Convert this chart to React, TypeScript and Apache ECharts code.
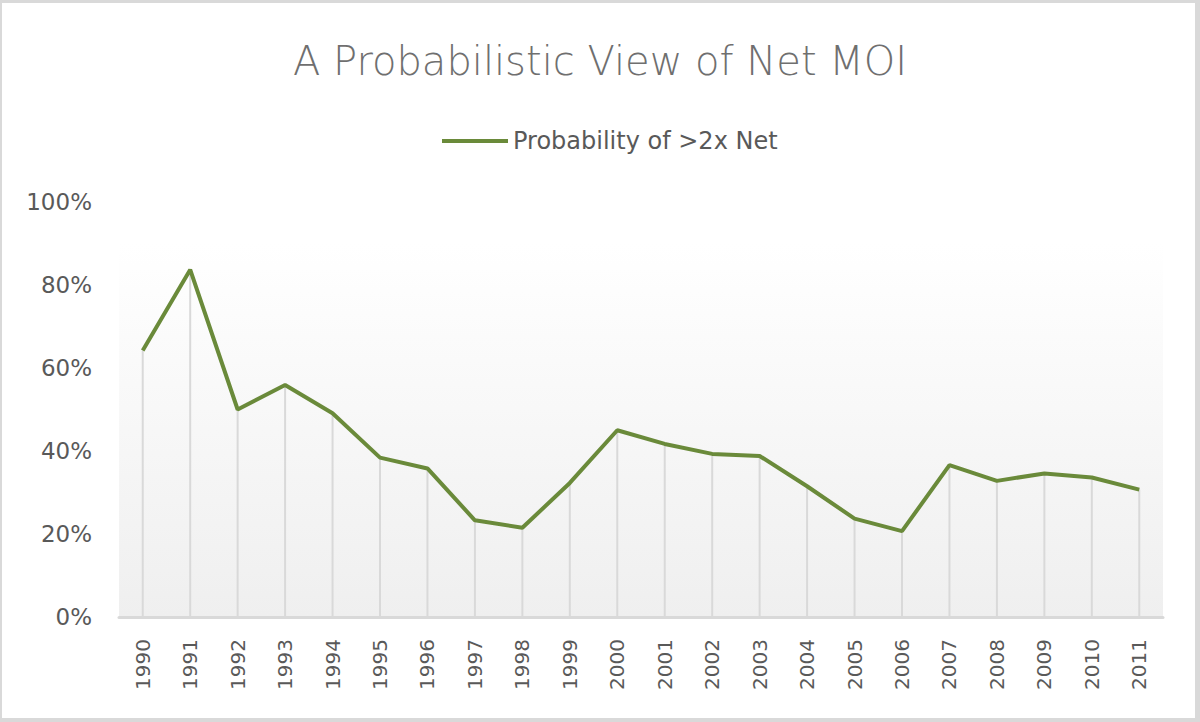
import React, { useEffect, useRef } from "react";
import * as echarts from "echarts";

const years = ["1990","1991","1992","1993","1994","1995","1996","1997","1998","1999","2000","2001","2002","2003","2004","2005","2006","2007","2008","2009","2010","2011"];
const probability = [64.2, 83.7, 50.0, 55.9, 49.1, 38.4, 35.8, 23.3, 21.5, 32.3, 45.0, 41.7, 39.3, 38.8, 31.5, 23.7, 20.7, 36.6, 32.8, 34.6, 33.6, 30.7];
const yTicks = [0, 20, 40, 60, 80, 100];

export default function App() {
  const ref = useRef<HTMLDivElement>(null);
  useEffect(() => {
    document.body.style.margin = "0";
    const chart = echarts.init(ref.current!, null, { renderer: "svg" });
    const font = "'DejaVu Sans', sans-serif";
    chart.setOption({
      animation: false,
      backgroundColor: "#ffffff",
      title: {
        text: "A Probabilistic View of Net MOI",
        left: "center",
        top: 36,
        textStyle: { fontFamily: font, fontSize: 40, fontWeight: 200, color: "#6f6f6f" },
      },
      legend: {
        data: [{ name: "Probability of >2x Net", icon: "rect" }],
        top: 124,
        left: 437,
        itemWidth: 66,
        itemHeight: 4,
        itemGap: 8,
        textStyle: { fontFamily: font, fontSize: 24, color: "#595959" },
      },
      grid: {
        left: 119,
        right: 37,
        top: 202,
        bottom: 105,
        show: true,
        borderWidth: 0,
        backgroundColor: new echarts.graphic.LinearGradient(0, 0, 0, 1, [
          { offset: 0, color: "#ffffff" },
          { offset: 0.1, color: "#ffffff" },
          { offset: 1, color: "#efefef" },
        ]),
      },
      xAxis: {
        type: "category",
        data: years,
        boundaryGap: true,
        axisLine: { lineStyle: { color: "#d9d9d9", width: 3 } },
        axisTick: { show: false },
        axisLabel: {
          rotate: 90,
          fontFamily: font,
          fontSize: 20,
          color: "#595959",
          margin: 22,
        },
      },
      yAxis: {
        type: "value",
        min: 0,
        max: 100,
        interval: 20,
        axisLine: { show: false },
        axisTick: { show: false },
        splitLine: { show: false },
        axisLabel: {
          fontFamily: font,
          fontSize: 23,
          color: "#595959",
          margin: 27,
          formatter: (v: number) => (yTicks.includes(v) ? v + "%" : ""),
        },
      },
      series: [
        {
          name: "drop",
          type: "bar",
          data: probability,
          barWidth: 2,
          itemStyle: { color: "#d9d9d9" },
          silent: true,
          legendHoverLink: false,
          z: 1,
        },
        {
          name: "Probability of >2x Net",
          type: "line",
          data: probability,
          showSymbol: false,
          symbol: "none",
          lineStyle: { color: "#6a8a3a", width: 4 },
          itemStyle: { color: "#6a8a3a" },
          z: 3,
        },
      ],
    });
    return () => chart.dispose();
  }, []);
  return (
    <div style={{ width: 1200, height: 722, position: "relative" }}>
      <div ref={ref} style={{ position: "absolute", left: 0, top: 0, width: 1200, height: 722 }} />
      <div
        style={{
          position: "absolute",
          left: 0,
          top: 0,
          width: 1200,
          height: 722,
          boxSizing: "border-box",
          borderTop: "3px solid #d9d9d9",
          borderLeft: "2px solid #d9d9d9",
          borderRight: "5px solid #d9d9d9",
          borderBottom: "4px solid #d9d9d9",
          pointerEvents: "none",
        }}
      />
    </div>
  );
}
